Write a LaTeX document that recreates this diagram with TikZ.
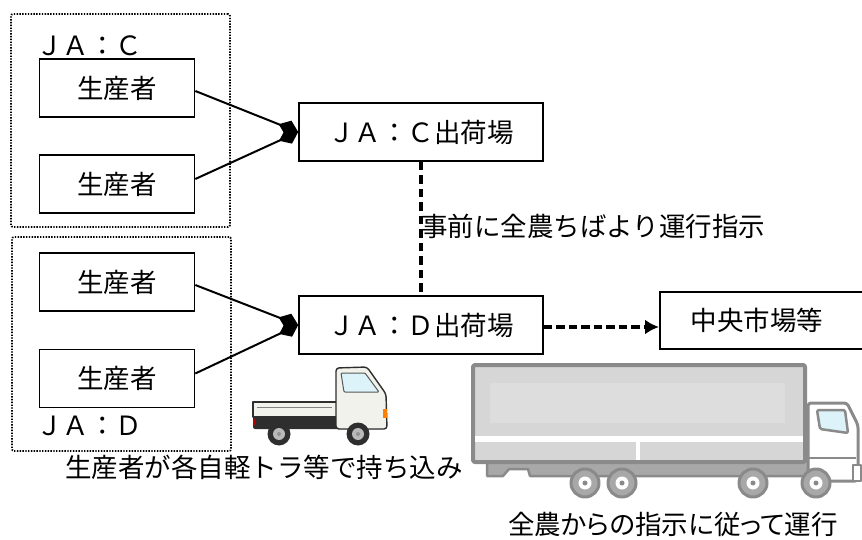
\documentclass[tikz,border=0pt]{standalone}
\usepackage{fontspec}
\newfontfamily\jp{Noto Sans CJK JP}
\newfontfamily\jpp[RawFeature=+palt]{Noto Sans CJK JP}
\usetikzlibrary{arrows.meta}
\definecolor{tkgray}{HTML}{8A8A8A}
\definecolor{tkbox}{HTML}{D6D6D6}
\definecolor{tkinner}{HTML}{DDDDDD}
\definecolor{tkwheel}{HTML}{A8A8A8}
\definecolor{glass}{HTML}{DDF3FA}
\definecolor{kbody}{HTML}{F2F2EC}
\definecolor{kline}{HTML}{2E2E2E}
\begin{document}
\begin{tikzpicture}[x=1pt,y=-1pt,
  every node/.style={font=\jp\fontsize{26.5}{30}\selectfont, inner sep=0pt},
  box/.style={draw, line width=1.6pt, minimum height=58pt, fill=white},
  group/.style={draw, line width=1.8pt, dash pattern=on 1.4pt off 1.4pt, rounded corners=2pt, minimum width=219pt},
  link/.style={line width=2pt, -{Diamond[length=21pt,width=16pt]}},
  order/.style={line width=3.6pt, dash pattern=on 8.5pt off 5pt},
  haul/.style={line width=3.6pt, dash pattern=on 8.5pt off 4pt, -{Latex[length=14pt,width=15pt]}},
  bigwheel/.style={fill=tkwheel, draw=tkgray, line width=3pt},
]
\useasboundingbox (0,0) rectangle (862,540);

% producer groups
\node[group, minimum height=213pt] (grpC) at (120.5,120.5) {};
\node[group, minimum height=214pt] (grpD) at (121.5,344) {};
\node (labC) at (89,46) {ＪＡ：Ｃ};
\node (labD) at (89,426) {ＪＡ：Ｄ};

% producers
\node[box, minimum width=155pt] (p1) at (117,88) {生産者};
\node[box, minimum width=155pt] (p2) at (117,184) {生産者};
\node[box, minimum width=155pt] (p3) at (117,282) {生産者};
\node[box, minimum width=155pt] (p4) at (117,378.5) {生産者};

% shipping points and market
\node[box, minimum width=244pt] (shipC) at (421,132) {ＪＡ：Ｃ出荷場};
\node[box, minimum width=244pt] (shipD) at (421,325) {ＪＡ：Ｄ出荷場};
\node[box, minimum width=230pt, minimum height=57pt, anchor=west] (market) at (659,320.5) {\hspace*{4pt}中央市場等\hspace*{40pt}};

% connectors
\draw[link] ([yshift=-3pt]p1.east) -- (shipC.west);
\draw[link] ([yshift=5pt]p2.east) -- (shipC.west);
\draw[link] ([yshift=-3pt]p3.east) -- (shipD.west);
\draw[link] ([yshift=5pt]p4.east) -- (shipD.west);
\draw[order] (shipC.south) -- (shipD.north);
\draw[haul] ([yshift=-2pt]shipD.east) -- ([yshift=-2pt]shipD.east -| market.west);

% captions
\node[anchor=west] (note) at (421,226) {事前に全農ちばより運行指示};
\node (capK) at (264,467) {生産者が各自軽トラ等で持ち込み};
\node[font=\jpp\fontsize{26.5}{30}\selectfont] (capT) at (673,524) {全農からの指示に従って運行};

% light truck
\begin{scope}[line join=round]
  \fill[kline, rounded corners=2pt] (253,416) rectangle (384,429);
  \fill[red!70!black] (253,419) rectangle (256,425);
  \draw[kline, line width=1.4pt, fill=kbody] (253,402) rectangle (337,417);
  \draw[kline!60, line width=0.6pt] (257,407) -- (332,407);
  \draw[kline, line width=1.4pt, fill=kbody, rounded corners=3pt]
    (336,429) -- (336,368) -- (367,367) -- (386,394) -- (387,429) -- cycle;
  \draw[kline!80, line width=1pt, fill=glass, rounded corners=1pt]
    (341,373) -- (365,373) -- (379,392) -- (344,392) -- cycle;
  \fill[orange] (383,409) rectangle (387,418);
  \foreach \cx in {279,358} {
    \fill[kline] (\cx,434) circle[radius=11.5pt];
    \fill[gray!55] (\cx,434) circle[radius=6pt];
    \fill[gray!85] (\cx,434) circle[radius=2pt];
  }
\end{scope}

% large truck
\begin{scope}[line join=round]
  \draw[tkgray, fill=tkwheel, line width=2.5pt]
    (487,461) -- (487,476) -- (503,476) -- (509,469) -- (528,469) -- (530,476) -- (812,476) -- (812,461) -- cycle;
  \draw[tkgray, fill=tkbox, line width=4pt, rounded corners=2pt] (473,365) rectangle (805,462);
  \fill[tkinner] (490,383) rectangle (785,423);
  \fill[white] (475,436) rectangle (803,442);
  \fill[white] (636,442) rectangle (640,460);
  \draw[tkgray, fill=white, line width=3pt, rounded corners=3pt]
    (808,481) -- (808,403) -- (847,403) -- (858,425) -- (858,481) -- cycle;
  \draw[tkgray, line width=2.5pt] (808,458) -- (856,458);
  \draw[tkgray, fill=white, line width=2pt] (853,465) rectangle (861,481);
  \draw[tkgray, fill=glass, line width=2.5pt, rounded corners=1.5pt]
    (817,410) -- (845,410) -- (848,433) -- (820,429) -- cycle;
  \foreach \cx in {585,622,753,816} {
    \draw[bigwheel] (\cx,483) circle[radius=14pt];
    \fill[white] (\cx,483) circle[radius=6.5pt];
    \fill[tkgray] (\cx,483) circle[radius=2.5pt];
  }
\end{scope}
\end{tikzpicture}
\end{document}
